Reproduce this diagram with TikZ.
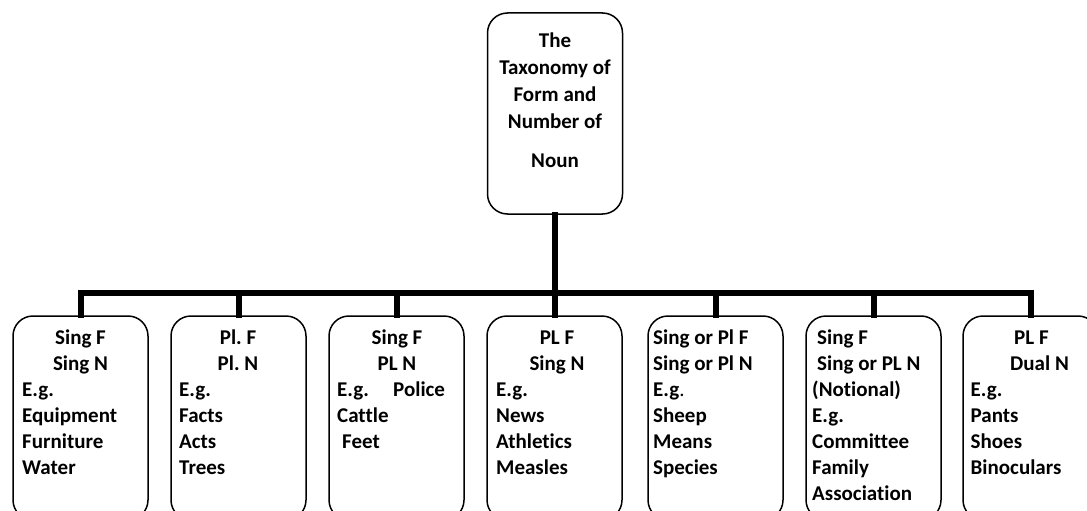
\documentclass[tikz,border=0pt]{standalone}
\usepackage{fontspec}
\setmainfont{Carlito}[Ligatures={NoCommon,NoRequired,NoContextual}]
\frenchspacing
\begin{document}
\begin{tikzpicture}[x=1pt,y=1pt,
  box/.style={draw=black, line width=1.5pt, rounded corners=20pt, minimum width=135pt, inner sep=0pt},
  conn/.style={draw=black, line width=6pt, line join=miter, line cap=rect},
  txt/.style={inner sep=0pt, font=\fontsize{21}{26}\selectfont\bfseries},
  hd/.style={txt, align=center, anchor=north},
  ls/.style={txt, align=left, anchor=north west}]
\useasboundingbox (0,0) rectangle (1087,-511);
% top box
\node[box, minimum height=201pt] (top) at (555,-113.5) {};
\node[inner sep=0pt, font=\fontsize{21}{27}\selectfont\bfseries, align=center, anchor=north] (toptxt) at (555,-28.1)
  {\strut The\\Taxonomy of\\Form and\\Number of\\[12pt]Noun};
% bottom boxes
\foreach \n/\c in {b1/80.5, b2/238.5, b3/396.5, b4/554.5, b5/715.5, b6/873.5, b7/1030.5}
  \node[box, minimum height=204pt] (\n) at (\c,-418) {};
% connectors
\coordinate (bar) at (0,-293);
\draw[conn] (top.south) -- (top.south |- bar);
\draw[conn] (b1.north) -- (b1.north |- bar) -- (b7.north |- bar) -- (b7.north);
\foreach \n in {b2,b3,b4,b5,b6}
  \draw[conn] (\n.north) -- (\n.north |- bar);
% texts
\def\ty{-325.8}
\node[hd] (h1) at (80.5,\ty) {\strut Sing F\\Sing N};
\node[ls] (l1) at (22,\ty-52) {\strut E.g.\\Equipment\\Furniture\\Water};
\node[hd] (h2) at (238,\ty) {\strut Pl. F\\Pl. N};
\node[ls] (l2) at (179,\ty-52) {\strut E.g.\\Facts\\Acts\\Trees};
\node[hd] (h3) at (397,\ty) {\strut Sing F\\PL N};
\node[ls] (l3) at (337,\ty-52) {\strut\makebox[56pt][l]{E.g.}Police\\Cattle\\\hspace*{5pt}Feet};
\node[hd] (h4) at (557,\ty) {\strut PL F\\Sing N};
\node[ls] (l4) at (496,\ty-52) {\strut E.g.\\News\\Athletics\\Measles};
\node[ls] (l5) at (653,\ty) {\strut Sing or Pl F\\Sing or Pl N\\E.g\textmd{.}\\Sheep\\Means\\Species};
\node[ls] (l6) at (812,\ty) {\strut\hspace*{5pt}Sing F\\\hspace*{5pt}Sing or PL N\\(Notional)\\E.g.\\Committee\\Family\\Association};
\node[ls] (h7) at (1010,\ty) {\strut\hspace*{4pt}PL F\\Dual N};
\node[ls] (l7) at (970.5,\ty-52) {\strut E.g.\\Pants\\Shoes\\Binoculars};
\end{tikzpicture}
\end{document}
